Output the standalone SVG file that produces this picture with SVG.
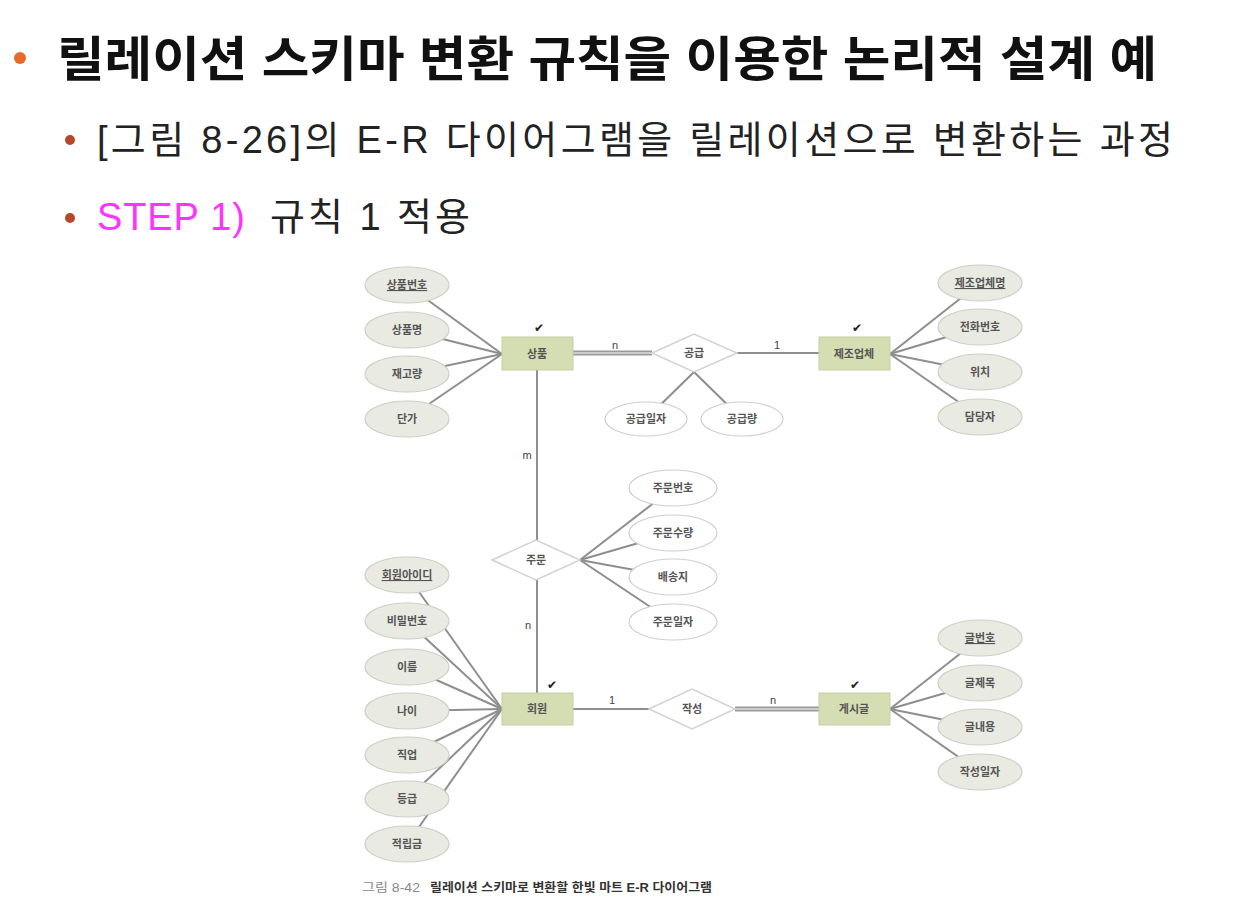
<svg xmlns="http://www.w3.org/2000/svg" width="1248" height="903" viewBox="0 0 1248 903">
<style>
.kr{font-family:"Liberation Sans","Noto Sans CJK KR",sans-serif}
.ent{fill:#d5ddb3;stroke:#c6cfa2;stroke-width:1}
.att{fill:#e9eae2;stroke:#cdcfc4;stroke-width:1.2}
.ratt{fill:#ffffff;stroke:#cfcfcf;stroke-width:1.2}
.rel{fill:#ffffff;stroke:#d2d2d2;stroke-width:1.5}
.lbl{font-family:"Noto Sans CJK KR","Noto Sans",sans-serif;font-size:11px;font-weight:bold;fill:#555;text-anchor:middle}
.pk{text-decoration:underline}
.ln{stroke:#8e8e8e;stroke-width:2;fill:none}
.dbo{stroke:#9a9a9a;stroke-width:5;fill:none}
.dbi{stroke:#dcdcdc;stroke-width:1.6;fill:none}
.card{font-family:"Liberation Sans",sans-serif;font-size:11px;fill:#444;text-anchor:middle}
.chk{font-family:"DejaVu Sans",sans-serif;font-size:12px;fill:#222;text-anchor:middle}
</style>
<rect width="1248" height="903" fill="#ffffff"/>
<g id="heading">
<circle cx="20" cy="58" r="6" fill="#e8692a"/>
<text class="kr" x="57" y="76" font-size="48" font-weight="bold" fill="#111" textLength="1100" lengthAdjust="spacingAndGlyphs">릴레이션 스키마 변환 규칙을 이용한 논리적 설계 예</text>
<circle cx="70" cy="140" r="5" fill="#b5482a"/>
<text class="kr" x="97" y="153" font-size="38" fill="#222" textLength="1076" lengthAdjust="spacing">[그림 8-26]의 E-R 다이어그램을 릴레이션으로 변환하는 과정</text>
<circle cx="70" cy="218" r="5" fill="#b5482a"/>
<text x="97" y="230" font-family="Liberation Sans, sans-serif" font-size="38" fill="#ff33ff" textLength="148" lengthAdjust="spacing">STEP 1)</text>
<text class="kr" x="270" y="230" font-size="38" fill="#222" textLength="200" lengthAdjust="spacing">규칙 1 적용</text>
</g>
<g id="connectors">
<line class="ln" x1="407" y1="285" x2="502" y2="354"/>
<line class="ln" x1="407" y1="330" x2="502" y2="354"/>
<line class="ln" x1="407" y1="374" x2="502" y2="354"/>
<line class="ln" x1="407" y1="419" x2="502" y2="354"/>
<line class="ln" x1="980" y1="283" x2="890" y2="354"/>
<line class="ln" x1="980" y1="327" x2="890" y2="354"/>
<line class="ln" x1="980" y1="372" x2="890" y2="354"/>
<line class="ln" x1="980" y1="417" x2="890" y2="354"/>
<line class="ln" x1="694" y1="372" x2="646" y2="419"/>
<line class="ln" x1="694" y1="372" x2="742" y2="419"/>
<line class="dbo" x1="573" y1="353" x2="652" y2="353"/>
<line class="dbi" x1="573" y1="353" x2="652" y2="353"/>
<line class="ln" x1="737" y1="353" x2="819" y2="353"/>
<line class="ln" x1="537" y1="370" x2="537" y2="540"/>
<line class="ln" x1="537" y1="580" x2="537" y2="693"/>
<line class="ln" x1="580" y1="560" x2="673" y2="488"/>
<line class="ln" x1="580" y1="560" x2="673" y2="533"/>
<line class="ln" x1="580" y1="560" x2="673" y2="577"/>
<line class="ln" x1="580" y1="560" x2="673" y2="622"/>
<line class="ln" x1="407" y1="575" x2="502" y2="709"/>
<line class="ln" x1="407" y1="621" x2="502" y2="709"/>
<line class="ln" x1="407" y1="667" x2="502" y2="709"/>
<line class="ln" x1="407" y1="711" x2="502" y2="709"/>
<line class="ln" x1="407" y1="755" x2="502" y2="709"/>
<line class="ln" x1="407" y1="799" x2="502" y2="709"/>
<line class="ln" x1="407" y1="844" x2="502" y2="709"/>
<line class="ln" x1="573" y1="709" x2="649" y2="709"/>
<line class="dbo" x1="735" y1="709" x2="819" y2="709"/>
<line class="dbi" x1="735" y1="709" x2="819" y2="709"/>
<line class="ln" x1="980" y1="638" x2="890" y2="709"/>
<line class="ln" x1="980" y1="683" x2="890" y2="709"/>
<line class="ln" x1="980" y1="727" x2="890" y2="709"/>
<line class="ln" x1="980" y1="772" x2="890" y2="709"/>
<text class="card" x="615" y="349">n</text>
<text class="card" x="777" y="349">1</text>
<text class="card" x="527" y="459">m</text>
<text class="card" x="528" y="629">n</text>
<text class="card" x="612" y="704">1</text>
<text class="card" x="773" y="704">n</text>
</g>
<g id="a-product-no"><ellipse class="att" cx="407" cy="285" rx="42" ry="18"/><text class="lbl pk" x="407" y="289">상품번호</text></g>
<g id="a-product-name"><ellipse class="att" cx="407" cy="330" rx="42" ry="18"/><text class="lbl" x="407" y="334">상품명</text></g>
<g id="a-stock"><ellipse class="att" cx="407" cy="374" rx="42" ry="18"/><text class="lbl" x="407" y="378">재고량</text></g>
<g id="a-price"><ellipse class="att" cx="407" cy="419" rx="42" ry="18"/><text class="lbl" x="407" y="423">단가</text></g>
<g id="e-product"><rect class="ent" x="502" y="337" width="71" height="33"/><text class="lbl" x="537" y="358">상품</text><text class="chk" x="539" y="332">✔</text></g>
<g id="r-supply"><polygon class="rel" points="652,353 694,334 737,353 694,372"/><text class="lbl" x="694" y="357">공급</text></g>
<g id="a-supply-date"><ellipse class="ratt" cx="646" cy="419" rx="41" ry="17"/><text class="lbl" x="646" y="423">공급일자</text></g>
<g id="a-supply-qty"><ellipse class="ratt" cx="742" cy="419" rx="41" ry="17"/><text class="lbl" x="742" y="423">공급량</text></g>
<g id="e-maker"><rect class="ent" x="819" y="337" width="71" height="33"/><text class="lbl" x="854" y="358">제조업체</text><text class="chk" x="857" y="332">✔</text></g>
<g id="a-maker-name"><ellipse class="att" cx="980" cy="283" rx="42" ry="18"/><text class="lbl pk" x="980" y="287">제조업체명</text></g>
<g id="a-phone"><ellipse class="att" cx="980" cy="327" rx="42" ry="18"/><text class="lbl" x="980" y="331">전화번호</text></g>
<g id="a-location"><ellipse class="att" cx="980" cy="372" rx="42" ry="18"/><text class="lbl" x="980" y="376">위치</text></g>
<g id="a-manager"><ellipse class="att" cx="980" cy="417" rx="42" ry="18"/><text class="lbl" x="980" y="421">담당자</text></g>
<g id="r-order"><polygon class="rel" points="492,560 536,540 580,560 536,580"/><text class="lbl" x="536" y="564">주문</text></g>
<g id="a-order-no"><ellipse class="ratt" cx="673" cy="488" rx="44" ry="18"/><text class="lbl" x="673" y="492">주문번호</text></g>
<g id="a-order-qty"><ellipse class="ratt" cx="673" cy="533" rx="44" ry="18"/><text class="lbl" x="673" y="537">주문수량</text></g>
<g id="a-ship"><ellipse class="ratt" cx="673" cy="577" rx="44" ry="18"/><text class="lbl" x="673" y="581">배송지</text></g>
<g id="a-order-date"><ellipse class="ratt" cx="673" cy="622" rx="44" ry="18"/><text class="lbl" x="673" y="626">주문일자</text></g>
<g id="a-member-id"><ellipse class="att" cx="407" cy="575" rx="42" ry="18"/><text class="lbl pk" x="407" y="579">회원아이디</text></g>
<g id="a-password"><ellipse class="att" cx="407" cy="621" rx="42" ry="18"/><text class="lbl" x="407" y="625">비밀번호</text></g>
<g id="a-name"><ellipse class="att" cx="407" cy="667" rx="42" ry="18"/><text class="lbl" x="407" y="671">이름</text></g>
<g id="a-age"><ellipse class="att" cx="407" cy="711" rx="42" ry="18"/><text class="lbl" x="407" y="715">나이</text></g>
<g id="a-job"><ellipse class="att" cx="407" cy="755" rx="42" ry="18"/><text class="lbl" x="407" y="759">직업</text></g>
<g id="a-grade"><ellipse class="att" cx="407" cy="799" rx="42" ry="18"/><text class="lbl" x="407" y="803">등급</text></g>
<g id="a-points"><ellipse class="att" cx="407" cy="844" rx="42" ry="18"/><text class="lbl" x="407" y="848">적립금</text></g>
<g id="e-member"><rect class="ent" x="502" y="693" width="71" height="32"/><text class="lbl" x="537" y="713">회원</text><text class="chk" x="552" y="689">✔</text></g>
<g id="r-write"><polygon class="rel" points="649,709 692,689 735,709 692,729"/><text class="lbl" x="692" y="713">작성</text></g>
<g id="e-post"><rect class="ent" x="819" y="693" width="71" height="32"/><text class="lbl" x="854" y="713">게시글</text><text class="chk" x="855" y="689">✔</text></g>
<g id="a-post-no"><ellipse class="att" cx="980" cy="638" rx="42" ry="18"/><text class="lbl pk" x="980" y="642">글번호</text></g>
<g id="a-post-title"><ellipse class="att" cx="980" cy="683" rx="42" ry="18"/><text class="lbl" x="980" y="687">글제목</text></g>
<g id="a-post-body"><ellipse class="att" cx="980" cy="727" rx="42" ry="18"/><text class="lbl" x="980" y="731">글내용</text></g>
<g id="a-post-date"><ellipse class="att" cx="980" cy="772" rx="42" ry="18"/><text class="lbl" x="980" y="776">작성일자</text></g>
<g id="caption">
<text class="kr" x="362" y="892" font-size="12.5" fill="#888" textLength="58" lengthAdjust="spacingAndGlyphs">그림 8-42</text>
<text class="kr" x="430" y="892" font-size="12" font-weight="bold" fill="#333" textLength="282" lengthAdjust="spacingAndGlyphs">릴레이션 스키마로 변환할 한빛 마트 E-R 다이어그램</text>
</g>
</svg>
